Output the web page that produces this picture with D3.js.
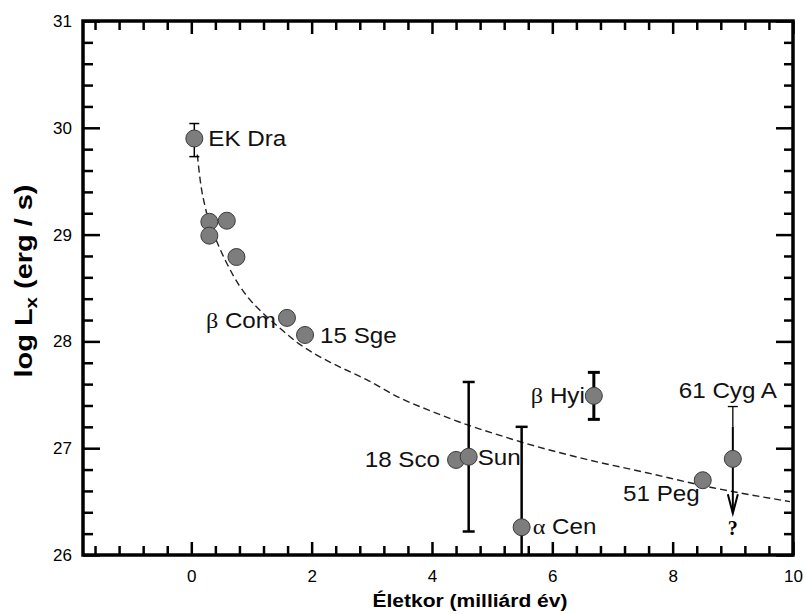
<!DOCTYPE html>
<html>
<head>
<meta charset="utf-8">
<script src="https://cdn.jsdelivr.net/npm/d3@7"></script>
<style>
  body { margin: 0; background: #fff; }
  text { font-family: "Liberation Sans", Arial, sans-serif; }
</style>
</head>
<body>
<script>
// stars: name, age (Gyr) and log Lx
const starNames = ["EK Dra", "", "", "", "", "β Com", "15 Sge", "18 Sco", "Sun", "α Cen", "β Hyi", "51 Peg", "61 Cyg A"]
const starAge   = [0.05, 0.30, 0.59, 0.30, 0.75, 1.59, 1.89, 4.40, 4.61, 5.49, 6.69, 8.50, 9.00]
const starLx    = [29.90, 29.12, 29.13, 28.99, 28.79, 28.22, 28.06, 26.89, 26.92, 26.26, 27.49, 26.70, 26.90]

// error bars (low, high)
const errStar = ["EK Dra", "Sun", "α Cen", "β Hyi"]
const errLow  = [29.73, 26.22, 26.00, 27.27]
const errHigh = [30.04, 27.62, 27.20, 27.71]

// upper limit for 61 Cyg A (arrow from top to tip)
const limitStar = "61 Cyg A"
const limitTop = 27.39
const limitTip = 26.39

// dashed fit curve
const fitAge = [0.10, 0.15, 0.23, 0.35, 0.45, 0.60, 0.79, 0.93, 1.20, 1.48, 1.76, 2.03, 2.36, 2.92, 3.47, 4.02, 4.58, 5.13, 5.47, 6.46, 7.57, 8.67, 9.95]
const fitLx  = [29.75, 29.50, 29.26, 29.04, 28.90, 28.72, 28.53, 28.42, 28.26, 28.12, 27.99, 27.89, 27.79, 27.64, 27.47, 27.34, 27.22, 27.12, 27.06, 26.91, 26.77, 26.63, 26.50]

// ticks
const xMajor = [0, 2, 4, 6, 8, 10]
const yMajor = [26, 27, 28, 29, 30, 31]

const width = 806
const height = 614
const plotLeft = 83, plotRight = 793, plotTop = 21, plotBottom = 555

// label placement (offsets from the circle centre, px)
const labelPos = {
  "EK Dra":   { dx: 14,  dy: 8,   anchor: "start" },
  "β Com":    { dx: -11, dy: 10,  anchor: "end" },
  "15 Sge":   { dx: 15,  dy: 8,   anchor: "start" },
  "18 Sco":   { dx: -16, dy: 7,   anchor: "end" },
  "Sun":      { dx: 9,   dy: 8,   anchor: "start" },
  "α Cen":    { dx: 11,  dy: 7,   anchor: "start" },
  "β Hyi":    { dx: -9,  dy: 7,   anchor: "end" },
  "51 Peg":   { dx: -3,  dy: 21,  anchor: "end" },
  "61 Cyg A": { dx: -5,  dy: -61, anchor: "middle" }
}

const svg = d3.select('body').append('svg')
  .attr('width', width)
  .attr('height', height)

const x = d3.scaleLinear().domain([-1.8, 10]).range([plotLeft, plotRight])
const y = d3.scaleLinear().domain([26, 31]).range([plotBottom, plotTop])

// minor ticks
const xMinor = d3.range(-1.6, 10, 0.4).map(v => +v.toFixed(2)).filter(v => xMajor.indexOf(v) < 0)
const yMinor = d3.range(26.2, 31, 0.2).map(v => +v.toFixed(2)).filter(v => yMajor.indexOf(v) < 0)

const styleAxis = (g) => {
  g.select('.domain').remove()
  g.selectAll('line').attr('stroke', '#000').attr('stroke-width', 2.5)
  g.selectAll('text').attr('fill', '#000').style('font-size', '17px')
    .style('font-family', '"Liberation Sans", Arial, sans-serif')
}

// bottom
svg.append('g').attr('transform', 'translate(0,' + plotBottom + ')')
  .call(d3.axisBottom(x).tickValues(xMajor).tickSize(-13).tickPadding(15).tickFormat(d3.format('d')))
  .call(styleAxis)
svg.append('g').attr('transform', 'translate(0,' + plotBottom + ')')
  .call(d3.axisBottom(x).tickValues(xMinor).tickSize(-9).tickFormat(''))
  .call(styleAxis)
// top
svg.append('g').attr('transform', 'translate(0,' + plotTop + ')')
  .call(d3.axisTop(x).tickValues(xMajor).tickSize(-13).tickFormat(''))
  .call(styleAxis)
svg.append('g').attr('transform', 'translate(0,' + plotTop + ')')
  .call(d3.axisTop(x).tickValues(xMinor).tickSize(-9).tickFormat(''))
  .call(styleAxis)
// left
svg.append('g').attr('transform', 'translate(' + plotLeft + ',0)')
  .call(d3.axisLeft(y).tickValues(yMajor).tickSize(-17).tickPadding(11).tickFormat(d3.format('d')))
  .call(styleAxis)
svg.append('g').attr('transform', 'translate(' + plotLeft + ',0)')
  .call(d3.axisLeft(y).tickValues(yMinor).tickSize(-10).tickFormat(''))
  .call(styleAxis)
// right
svg.append('g').attr('transform', 'translate(' + plotRight + ',0)')
  .call(d3.axisRight(y).tickValues(yMajor).tickSize(-17).tickFormat(''))
  .call(styleAxis)
svg.append('g').attr('transform', 'translate(' + plotRight + ',0)')
  .call(d3.axisRight(y).tickValues(yMinor).tickSize(-9).tickFormat(''))
  .call(styleAxis)

// frame
svg.append('rect')
  .attr('x', plotLeft).attr('y', plotTop)
  .attr('width', plotRight - plotLeft).attr('height', plotBottom - plotTop)
  .attr('fill', 'none').attr('stroke', '#000').attr('stroke-width', 3.5)

// fit curve
const fitData = fitAge.map((a, i) => [a, fitLx[i]])
svg.append('path')
  .datum(fitData)
  .attr('d', d3.line().x(d => x(d[0])).y(d => y(d[1])).curve(d3.curveMonotoneX))
  .attr('fill', 'none')
  .attr('stroke', '#222')
  .attr('stroke-width', 1.4)
  .attr('stroke-dasharray', '7,4')

// error bars
const capW = { "EK Dra": 5, "Sun": 6, "α Cen": 6, "β Hyi": 6 }
const barW = { "EK Dra": 1.5, "Sun": 2.5, "α Cen": 2.5, "β Hyi": 3 }
errStar.forEach((name, i) => {
  const k = starNames.indexOf(name)
  const cx = x(starAge[k])
  const g = svg.append('g').attr('stroke', '#000').attr('stroke-width', barW[name])
  g.append('line').attr('x1', cx).attr('x2', cx).attr('y1', y(errLow[i])).attr('y2', y(errHigh[i]))
  g.append('line').attr('x1', cx - capW[name]).attr('x2', cx + capW[name]).attr('y1', y(errHigh[i])).attr('y2', y(errHigh[i]))
  if (errLow[i] > 26) {
    g.append('line').attr('x1', cx - capW[name]).attr('x2', cx + capW[name]).attr('y1', y(errLow[i])).attr('y2', y(errLow[i]))
  }
})

// upper limit arrow for 61 Cyg A
{
  const k = starNames.indexOf(limitStar)
  const cx = x(starAge[k])
  const g = svg.append('g').attr('stroke', '#000').attr('fill', 'none')
  g.append('line').attr('x1', cx - 5).attr('x2', cx + 5).attr('y1', y(limitTop)).attr('y2', y(limitTop)).attr('stroke-width', 1.3)
  g.append('line').attr('x1', cx).attr('x2', cx).attr('y1', y(limitTop)).attr('y2', y(limitTop) + 20).attr('stroke-width', 1.3)
  g.append('line').attr('x1', cx).attr('x2', cx).attr('y1', y(limitTop) + 20).attr('y2', y(limitTip)).attr('stroke-width', 2)
  g.append('path')
    .attr('d', 'M' + (cx - 5) + ',' + (y(limitTip) - 19) + 'L' + cx + ',' + y(limitTip) + 'L' + (cx + 5) + ',' + (y(limitTip) - 19))
    .attr('stroke-width', 2)
  svg.append('text')
    .attr('x', cx).attr('y', y(limitTip) + 22)
    .attr('text-anchor', 'middle')
    .style('font-family', '"Liberation Serif", "Times New Roman", serif')
    .style('font-weight', 'bold')
    .style('font-size', '20px')
    .text('?')
}

// points
svg.selectAll('circle.star')
  .data(starAge.map((a, i) => [a, starLx[i]]))
  .enter()
  .append('circle')
  .attr('class', 'star')
  .attr('cx', d => x(d[0]))
  .attr('cy', d => y(d[1]))
  .attr('r', 8.5)
  .attr('fill', '#7d7d7d')
  .attr('stroke', '#3a3a3a')
  .attr('stroke-width', 1)

// labels
starNames.forEach((name, i) => {
  if (!name) return
  const p = labelPos[name]
  const g = svg.append('g')
    .attr('transform', 'translate(' + (x(starAge[i]) + p.dx) + ',' + (y(starLx[i]) + p.dy) + ') scale(1.1,1)')
  const t = g.append('text')
    .attr('text-anchor', p.anchor)
    .style('font-size', '22px')
    .attr('fill', '#111')
  const greek = name[0] === 'β' || name[0] === 'α'
  if (greek) {
    t.append('tspan').style('font-family', '"Liberation Serif", "Times New Roman", serif').text(name[0])
    t.append('tspan').text(name.slice(1))
  } else {
    t.text(name)
  }
})

// axis titles
svg.append('text')
  .attr('x', 470).attr('y', 607)
  .attr('text-anchor', 'middle')
  .attr('textLength', 195)
  .attr('lengthAdjust', 'spacingAndGlyphs')
  .style('font-weight', 'bold')
  .style('font-size', '18px')
  .text('Életkor (milliárd év)')

const yt = svg.append('text')
  .attr('transform', 'translate(32,281) rotate(-90)')
  .attr('text-anchor', 'middle')
  .attr('textLength', 193)
  .attr('lengthAdjust', 'spacingAndGlyphs')
  .style('font-weight', 'bold')
  .style('font-size', '24px')
yt.append('tspan').text('log L')
yt.append('tspan').attr('dy', 5).style('font-size', '17px').text('x')
yt.append('tspan').attr('dy', -5).text(' (erg / s)')
</script>
</body>
</html>
